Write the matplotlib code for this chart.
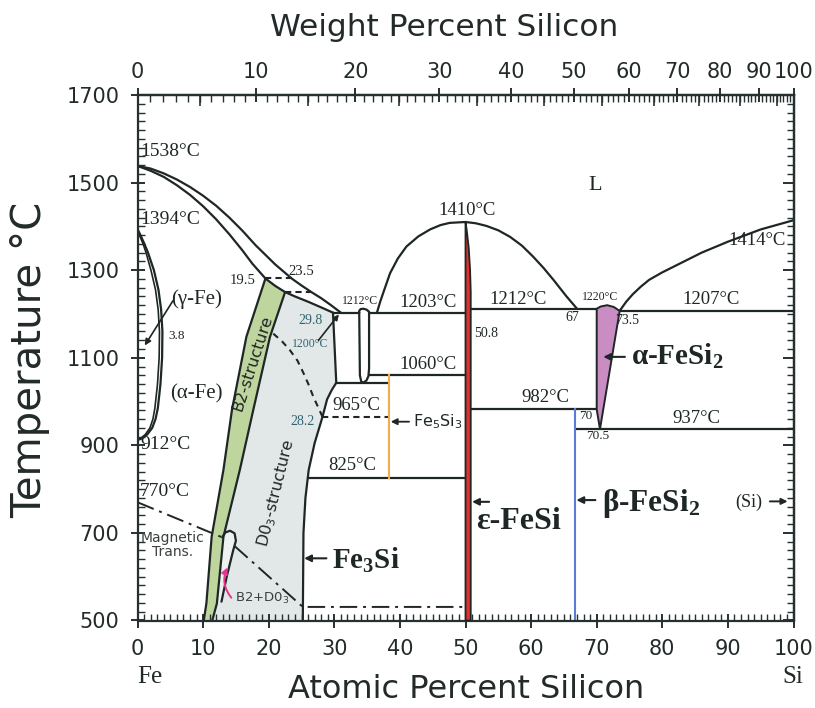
import numpy as np
import matplotlib
matplotlib.use("Agg")
import matplotlib.pyplot as plt

plt.rcParams["mathtext.fontset"] = "custom"
plt.rcParams["mathtext.rm"] = "DejaVu Sans"
plt.rcParams["mathtext.it"] = "DejaVu Sans:italic"
plt.rcParams["mathtext.bf"] = "Liberation Serif:bold"

SANS = "DejaVu Sans"
SERIF = "Liberation Serif"
INK = "#1e2626"
TEAL = "#2f6470"
AXC = "#263030"

# ---------------- phase boundaries: atomic % Si  vs  temperature (°C) ----------------
liq_fe_x = [0, 2, 4, 6, 8, 10, 12, 14, 16, 18, 19.5, 21, 23.5, 25, 26.5, 28, 29.5, 31]
liq_fe_t = [1538, 1532, 1521, 1507, 1490, 1470, 1447, 1420, 1390, 1357, 1335, 1313,
            1281, 1265, 1250, 1236, 1220, 1203]
sol_fe_x = [0, 2, 4, 6, 8, 10, 12, 14, 16, 17.5, 19.5, 21, 22.5, 24, 26, 28, 29.8]
sol_fe_t = [1538, 1527, 1513, 1494, 1472, 1446, 1416, 1382, 1345, 1315, 1281, 1264,
            1250, 1240, 1228, 1215, 1203]

gam_t = [1394, 1380, 1360, 1340, 1300, 1255, 1210, 1160, 1100, 1040, 985, 960, 940, 925, 916, 912]
gam_out_x = [0, 0.45, 1.05, 1.6, 2.5, 3.2, 3.6, 3.8, 3.75, 3.5, 3.1, 2.75, 2.25, 1.5, 0.7, 0]
gam_in_x = [0, 0.3, 0.85, 1.3, 2.05, 2.75, 3.15, 3.35, 3.3, 3.05, 2.65, 2.35, 1.9, 1.2, 0.5, 0]

b2_t = [1281, 1148, 981, 844, 691, 539, 500]
b2_left_x = [19.5, 16.6, 14.4, 13.1, 11.3, 10.5, 10.1]
b2r_t = [1250, 1148, 981, 844, 691, 539, 500]
b2_right_x = [22.5, 20.2, 17.65, 15.6, 13.1, 12.1, 11.4]

lens_x = [12.9, 13.4, 14.1, 14.8, 15.0, 14.6, 13.6, 12.8]
lens_t = [690, 701, 705, 699, 682, 661, 600, 543]

d03_x = [29.8, 30.3, 29.6, 28.9, 28.2, 27.0, 26.1, 25.6, 25.3, 25.2]
d03_t = [1203, 1043, 1026, 1005, 965, 905, 844, 780, 700, 500]

d03_order_x = [20.7, 22.0, 23.2, 24.4, 25.3, 26.1, 26.8, 27.6, 28.2]
d03_order_t = [1155, 1138, 1118, 1093, 1065, 1038, 1011, 985, 965]

mag_x = [0, 12.9]
mag_t = [770, 690]
mag2_x = [14.8, 25.2, 50.0]
mag2_t = [670, 531, 531]

oval_x = [33.8, 33.8, 34.0, 34.4, 34.9, 35.3, 35.3, 35.2, 34.9, 34.4, 34.1, 33.9, 33.8]
oval_t = [1203, 1207, 1211, 1212, 1210, 1205, 1075, 1058, 1048, 1043, 1046, 1060, 1203]

liq_mid_x = [36.5, 37.0, 37.5, 38.5, 39.7, 41.0, 42.8, 44.6, 46.2, 47.6, 50.0, 51.6,
             53.2, 55.0, 56.8, 58.6, 60.3, 61.9, 63.4, 65.4, 67.0]
liq_mid_t = [1203, 1228, 1250, 1293, 1327, 1354, 1377, 1393, 1403, 1408, 1410, 1407,
             1401, 1391, 1376, 1356, 1331, 1305, 1278, 1240, 1212]
liq_si_x = [73.5, 74.5, 75.5, 76.7, 78, 80, 82, 86, 90, 95, 100]
liq_si_t = [1207, 1228, 1245, 1262, 1278, 1295, 1310, 1340, 1365, 1393, 1414]

fesi_x = [50.0, 50.0, 50.2, 50.5, 50.7, 50.8, 50.8]
fesi_t = [500, 1410, 1390, 1350, 1300, 1250, 500]

alpha_x = [70.0, 70.0, 70.6, 71.6, 72.6, 73.5, 70.5, 70.0]
alpha_t = [982, 1212, 1217, 1220, 1216, 1207, 937, 982]

fe5si3_x = 38.4
fe5si3_t = [1060, 825]
beta_x = 66.7
beta_t = [982, 500]

# isotherms: (temperature, x_start, x_end)
iso_T = [1203, 1203, 1060, 1043, 825, 1212, 982, 937, 1207]
iso_x0 = [29.8, 35.3, 35.3, 30.3, 26.0, 50.8, 50.8, 66.7, 73.5]
iso_x1 = [33.8, 50.0, 50.0, 38.4, 50.0, 70.0, 70.0, 100, 100]

dash_T = [1281, 1250, 965]
dash_x0 = [19.5, 22.5, 28.2]
dash_x1 = [23.5, 26.5, 38.4]

# ---------------- figure ----------------
W, H = 815, 708
fig = plt.figure(figsize=(W / 100, H / 100), dpi=100)
ax = fig.add_axes([137.5 / W, 1 - 620.5 / H, 656 / W, 525.5 / H])
ax.set_xlim(0, 100)
ax.set_ylim(500, 1700)

# filled phase fields
d03_poly_x = [22.5, 24, 26, 28, 29.8] + d03_x[1:] + b2_right_x[::-1]
d03_poly_t = [1250, 1240, 1228, 1215, 1203] + d03_t[1:] + b2r_t[::-1]
ax.fill(d03_poly_x, d03_poly_t, color="#e2e8e8", lw=0, zorder=1)
green_x = b2_left_x + b2_right_x[::-1] + [21, 19.5]
green_t = b2_t + b2r_t[::-1] + [1264, 1281]
ax.fill(green_x, green_t, color="#bed59e", lw=0, zorder=1)
ax.fill(lens_x + [b2_right_x[5]], lens_t + [539], color="#edf1f0", lw=0, zorder=1.1)
ax.fill(fesi_x, fesi_t, facecolor="#e3302a", edgecolor=INK, lw=1.3, zorder=3)
ax.fill(alpha_x, alpha_t, facecolor="#c98cc3", edgecolor=INK, lw=1.4, zorder=3)

lk = dict(color=INK, lw=1.6, zorder=2, solid_capstyle="round", solid_joinstyle="round")
ax.plot(liq_fe_x, liq_fe_t, **lk)
ax.plot(sol_fe_x, sol_fe_t, **lk)
ax.plot(gam_out_x, gam_t, **lk)
ax.plot(gam_in_x, gam_t, color=INK, lw=1.2, zorder=2)
ax.plot(b2_left_x, b2_t, **lk)
ax.plot(b2_right_x, b2r_t, **lk)
ax.plot(lens_x, lens_t, **lk)
ax.plot(d03_x, d03_t, **lk)
ax.plot(oval_x, oval_t, **lk)
ax.plot(liq_mid_x, liq_mid_t, **lk)
ax.plot(liq_si_x, liq_si_t, **lk)
for T, a, b in zip(iso_T, iso_x0, iso_x1):
    ax.plot([a, b], [T, T], **lk)
for T, a, b in zip(dash_T, dash_x0, dash_x1):
    ax.plot([a, b], [T, T], color=INK, lw=1.5, ls=(0, (3, 2)), zorder=2)
ax.plot(d03_order_x, d03_order_t, color=INK, lw=1.5, ls=(0, (3, 2.5)), zorder=2)
ax.plot(mag_x, mag_t, color=INK, lw=1.4, ls=(0, (9, 3, 1.5, 3)), zorder=2)
ax.plot(mag2_x, mag2_t, color=INK, lw=1.4, ls=(0, (9, 3, 1.5, 3)), zorder=2)
ax.plot([fe5si3_x, fe5si3_x], fe5si3_t, color="#f1ae48", lw=1.5, zorder=2)
ax.plot([beta_x, beta_x], beta_t, color="#5b7cd4", lw=1.5, zorder=2)


def txt(x, y, s, size=13.5, family=SERIF, color=INK, ha="center", va="center", **kw):
    ax.text(x, y, s, fontsize=size, family=family, color=color, ha=ha, va=va, zorder=5, **kw)


def arrow(x0, y0, x1, y1, lw=1.4, ms=10):
    ax.annotate("", xy=(x1, y1), xytext=(x0, y0),
                arrowprops=dict(arrowstyle="-|>", color=INK, lw=lw, mutation_scale=ms,
                                shrinkA=0, shrinkB=0), zorder=5)


# temperature / composition annotations
txt(0.4, 1570, "1538°C", size=14, ha="left")
txt(0.4, 1415, "1394°C", size=14, ha="left")
txt(0.4, 901, "912°C", size=14, ha="left")
txt(0.4, 794, "770°C", size=14, ha="left")
txt(9.0, 1234, "(γ-Fe)", size=15)
txt(5.9, 1150, "3.8", size=9.5)
txt(8.9, 1017, "(α-Fe)", size=15)
arrow(5.4, 1230, 1.1, 1128, lw=1.2, ms=9)
txt(16.0, 1277, "19.5", size=10.5)
txt(25.0, 1296, "23.5", size=10.5)
txt(26.4, 1186, "29.8", size=10, color=TEAL)
txt(26.3, 1131, "1200°C", size=8.5, color=TEAL)
arrow(27.6, 1140, 30.7, 1199, lw=1.2, ms=8)
txt(25.15, 955, "28.2", size=10, color=TEAL)
txt(33.9, 1230, "1212°C", size=8.5)
txt(44.3, 1226, "1203°C")
txt(44.3, 1085, "1060°C")
txt(33.4, 992, "965°C")
txt(32.8, 853, "825°C")
txt(42.05, 954, "Fe$_5$Si$_3$", size=11.5, family=SANS, ha="left")
arrow(41.4, 954, 38.6, 954, lw=1.3, ms=9)
txt(50.3, 1436, "1410°C")
txt(69.8, 1494, "L", size=16)
txt(53.2, 1156, "50.8", size=10)
txt(58.0, 1234, "1212°C")
txt(66.3, 1192, "67", size=10)
txt(70.5, 1238, "1220°C", size=8.5)
txt(74.6, 1184, "73.5", size=10)
txt(87.5, 1232, "1207°C")
txt(94.4, 1368, "1414°C")
txt(62.1, 1010, "982°C")
txt(68.4, 967, "70", size=9.5)
txt(70.2, 921, "70.5", size=9.5)
txt(85.2, 962, "937°C")
txt(75.3, 1104, "α-$\\mathbf{FeSi_2}$", size=21, ha="left", fontweight="bold")
arrow(74.3, 1102, 71.0, 1102, lw=1.5, ms=10)
txt(51.6, 725, "ε-FeSi", size=23, ha="left", fontweight="bold")
arrow(53.6, 771, 51.0, 771, lw=1.5, ms=10)
txt(70.8, 768, "β-$\\mathbf{FeSi_2}$", size=22.5, ha="left", fontweight="bold")
arrow(69.8, 775, 66.9, 775, lw=1.5, ms=10)
txt(91.1, 769, "(Si)", size=13, ha="left")
arrow(96.4, 772, 99.1, 772, lw=1.4, ms=9)
txt(29.6, 638, "$\\mathbf{Fe_3Si}$", size=21, ha="left")
arrow(28.8, 642, 25.4, 642, lw=1.5, ms=10)
txt(5.3, 672, "Magnetic\nTrans.", size=10, family=SANS, color="#3a3f3f", linespacing=1.0)
txt(19.0, 550, "B2+D0$_3$", size=9.5, family=SANS, color="#3a3f3f")
txt(17.5, 1087, "B2-structure", size=11.5, family=SANS, rotation=72)
txt(21.2, 790, "D0$_3$-structure", size=11.5, family=SANS, rotation=76)
ax.annotate("", xy=(13.7, 621), xytext=(14.3, 552),
            arrowprops=dict(arrowstyle="-|>", color="#e8338f", lw=1.4, mutation_scale=9,
                            shrinkA=0, shrinkB=0, connectionstyle="arc3,rad=-0.3"), zorder=5)

# ---------------- axes, ticks ----------------
for sp in ax.spines.values():
    sp.set_linewidth(1.6)
    sp.set_color(AXC)

ax.set_xticks(np.arange(0, 101, 10))
ax.set_xticks(np.arange(0, 101, 1), minor=True)
ax.set_yticks(np.arange(500, 1701, 200))
ax.set_yticks(np.arange(500, 1701, 20), minor=True)
ax.tick_params(axis="both", which="major", direction="inout", length=10, width=1.4,
               colors=AXC, labelsize=15, pad=8)
ax.tick_params(axis="both", which="minor", direction="in", length=5, width=1.0, colors=AXC)
ax.tick_params(axis="y", which="both", right=False)
ax.tick_params(axis="x", which="both", top=False)
for lab in ax.get_xticklabels() + ax.get_yticklabels():
    lab.set_family(SANS)
    lab.set_color("#222a2a")

# right-hand temperature scale: ticks pointing inward only
rsec = ax.secondary_yaxis("right")
rsec.set_yticks(np.arange(500, 1701, 200))
rsec.set_yticks(np.arange(500, 1701, 20), minor=True)
rsec.tick_params(which="major", direction="in", length=8, width=1.4, colors=AXC, labelright=False)
rsec.tick_params(which="minor", direction="in", length=5, width=1.0, colors=AXC)
rsec.spines["right"].set_linewidth(1.6)

M_SI, M_FE = 28.0855, 55.845


def at2wt(a):
    a = np.asarray(a, dtype=float)
    return 100 * a * M_SI / (a * M_SI + (100 - a) * M_FE)


def wt2at(w):
    w = np.asarray(w, dtype=float)
    return 100 * (w / M_SI) / (w / M_SI + (100 - w) / M_FE)


sec = ax.secondary_xaxis("top", functions=(at2wt, wt2at))
sec.set_xticks(np.arange(0, 101, 10))
sec.set_xticks(np.arange(0, 101, 1), minor=True)
sec.tick_params(which="major", direction="inout", length=10, width=1.4, colors=AXC,
                labelsize=15, pad=4)
sec.tick_params(which="minor", direction="in", length=5, width=1.0, colors=AXC)
sec.spines["top"].set_linewidth(1.6)
for lab in sec.get_xticklabels():
    lab.set_family(SANS)
    lab.set_color("#222a2a")

sec5 = ax.secondary_xaxis("top", functions=(at2wt, wt2at))
sec5.set_xticks(np.arange(5, 100, 10))
sec5.tick_params(which="major", direction="in", length=8, width=1.2, colors=AXC,
                 labeltop=False)
sec5.xaxis.set_minor_locator(matplotlib.ticker.NullLocator())
sec5.spines["top"].set_visible(False)

# axis titles
fig.text(444 / W, 1 - 27 / H, "Weight Percent Silicon", fontsize=22.5, family=SANS,
         color="#222a2a", ha="center", va="center")
fig.text(466 / W, 1 - 690 / H, "Atomic Percent Silicon", fontsize=23, family=SANS,
         color="#222a2a", ha="center", va="center")
fig.text(30 / W, 1 - 360 / H, "Temperature °C", fontsize=29, family=SANS, color="#222a2a",
         ha="center", va="center", rotation=90)
fig.text(150 / W, 1 - 677 / H, "Fe", fontsize=18, family=SERIF, color="#222a2a",
         ha="center", va="center")
fig.text(793 / W, 1 - 677 / H, "Si", fontsize=18, family=SERIF, color="#222a2a",
         ha="center", va="center")

fig.savefig("out.png", dpi=100)
